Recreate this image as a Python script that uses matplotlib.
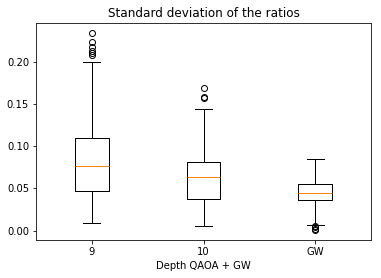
import matplotlib
matplotlib.use('Agg')
import matplotlib.pyplot as plt

labels = ['9', '10', 'GW']
medians = [0.0766, 0.0639, 0.0446]
q1s = [0.0466, 0.0371, 0.0360]
q3s = [0.1094, 0.0809, 0.0549]
whisker_lo = [0.0091, 0.0052, 0.0067]
whisker_hi = [0.2000, 0.1444, 0.0845]
fliers = [
    [0.2348, 0.2245, 0.2186, 0.2135, 0.2107, 0.2088],
    [0.1697, 0.1582, 0.1578],
    [0.0058, 0.0040, 0.0022, 0.0005],
]

stats = []
for i in range(len(labels)):
    stats.append({
        'label': labels[i],
        'med': medians[i],
        'q1': q1s[i],
        'q3': q3s[i],
        'whislo': whisker_lo[i],
        'whishi': whisker_hi[i],
        'fliers': fliers[i],
    })

fig = plt.figure(figsize=(381 / 72, 278 / 72), dpi=72)
ax = fig.add_axes([36 / 381, 38 / 278, 335 / 381, 217 / 278])
ax.bxp(stats, showfliers=True)
ax.set_title('Standard deviation of the ratios')
ax.set_xlabel('Depth QAOA + GW')
ax.set_yticks([0.0, 0.05, 0.10, 0.15, 0.20])
fig.savefig('out.png', dpi=72)
